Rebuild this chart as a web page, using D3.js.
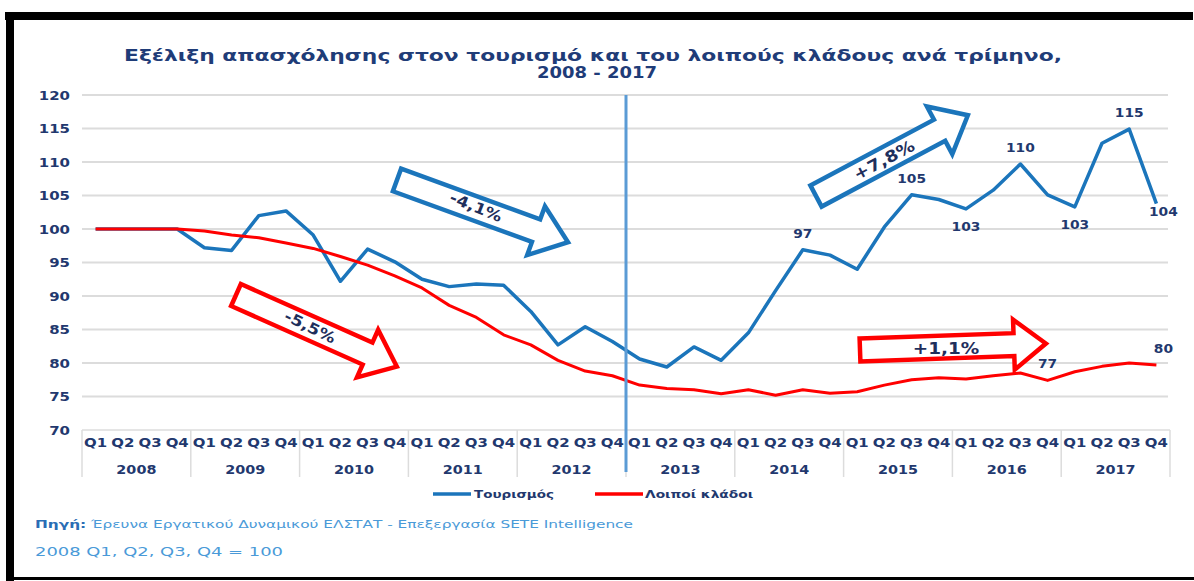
<!DOCTYPE html>
<html><head><meta charset="utf-8">
<script src="https://cdn.jsdelivr.net/npm/d3@7"></script>
<style>body{margin:0;background:#fff;}svg{display:block;}</style>
</head><body>
<svg id="c" width="1194" height="581"></svg>
<script>
// ---------- data ----------
const years = ["2008","2009","2010","2011","2012","2013","2014","2015","2016","2017"];
const quarters = ["Q1","Q2","Q3","Q4"];
const seriesNames = ["Τουρισμός","Λοιποί κλάδοι"];
const tourism = [
  100,100,100,100,
  97.2,96.8,102.0,102.7,
  99.1,92.2,97.0,95.1,
  92.5,91.4,91.8,91.6,
  87.7,82.7,85.4,83.2,
  80.6,79.4,82.4,80.4,
  84.5,90.8,96.9,96.1,
  94.0,100.3,105.1,104.4,
  103.0,105.8,109.7,105.1,
  103.3,112.8,114.9,103.8];
const others = [
  100,100,100,100,
  99.7,99.1,98.7,97.9,
  97.1,95.9,94.6,93.0,
  91.2,88.6,86.8,84.2,
  82.7,80.4,78.8,78.1,
  76.7,76.2,76.0,75.4,
  76.0,75.2,76.0,75.5,
  75.7,76.7,77.5,77.8,
  77.6,78.1,78.5,77.4,
  78.7,79.5,80.0,79.7];
const yTicks = [70,75,80,85,90,95,100,105,110,115,120];
const tourismLabels = [[26,"97",-1],[30,"105",-1],[32,"103",1],[34,"110",-1],[36,"103",1],[38,"115",-1],[39,"104",1]];
const othersLabels = [[35,"77",-1],[39,"80",-1]];
const trendTexts = ["-4,1%","-5,5%","+7,8%","+1,1%"];
const titleLines = ["Εξέλιξη απασχόλησης στον τουρισμό και του λοιπούς κλάδους ανά τρίμηνο,","2008 - 2017"];
const sourceLabel = "Πηγή:";
const sourceText = " Έρευνα Εργατικού Δυναμικού ΕΛΣΤΑΤ - Επεξεργασία SETE Intelligence";
const noteText = "2008 Q1, Q2, Q3, Q4 = 100";

// ---------- setup ----------
const svg = d3.select("#c");
const NAVY = "#22386e", BLUE = "#1b75bb", RED = "#ff0000", GRID = "#dcdcdc";
const FONT = "DejaVu Sans, Verdana, sans-serif";

function stretch(sel, k){ sel.each(function(){ const w=this.getComputedTextLength(); d3.select(this).attr("textLength", w*k).attr("lengthAdjust","spacingAndGlyphs"); }); }
function fit(sel, w){ sel.attr("textLength", w).attr("lengthAdjust","spacingAndGlyphs"); }

// frame
svg.append("rect").attr("x",5).attr("y",12).attr("width",1188).attr("height",8).attr("fill","#000");
svg.append("rect").attr("x",6).attr("y",12).attr("width",8).attr("height",569).attr("fill","#000");
svg.append("rect").attr("x",6).attr("y",577).attr("width",1188).attr("height",3).attr("fill","#000");

const idx = d3.range(tourism.length);
const x = d3.scaleBand().domain(idx).range([82,1170]);
const bw = x.bandwidth();
const cx = i => x(i) + bw/2;
const y = d3.scaleLinear().domain([70,120]).range([430,95]);

// title
const t1 = svg.append("text").attr("x",593).attr("y",61).attr("text-anchor","middle")
  .attr("font-family",FONT).attr("font-weight","bold").attr("font-size",15).attr("fill","#1f3c78").text(titleLines[0]);
fit(t1, 938);
const t2 = svg.append("text").attr("x",597).attr("y",78).attr("text-anchor","middle")
  .attr("font-family",FONT).attr("font-weight","bold").attr("font-size",15).attr("fill","#1f3c78").text(titleLines[1]);
fit(t2, 120);

// gridlines
svg.append("g").selectAll("line").data(yTicks.filter(v=>v>70)).join("line")
  .attr("x1",82).attr("x2",1168).attr("y1",d=>y(d)).attr("y2",d=>y(d))
  .attr("stroke",GRID).attr("stroke-width",2);
svg.append("line").attr("x1",82).attr("x2",1170).attr("y1",y(70)).attr("y2",y(70)).attr("stroke",GRID).attr("stroke-width",1.5);

// y axis
const ya = svg.append("g").attr("transform","translate(82,0)")
  .call(d3.axisLeft(y).tickValues(yTicks).tickSize(0).tickPadding(12));
ya.select(".domain").remove();
ya.selectAll("text").attr("font-family",FONT).attr("font-weight","bold").attr("font-size",11.5).attr("fill",NAVY).attr("dy","0.35em");
stretch(ya.selectAll("text"),1.3);

// x axis: quarters
const xa = svg.append("g").attr("transform",`translate(0,${y(70)})`)
  .call(d3.axisBottom(x).tickFormat(i=>quarters[i%4]).tickSize(0).tickPadding(17));
xa.select(".domain").remove();
xa.selectAll("text").attr("font-family",FONT).attr("font-weight","bold").attr("font-size",11.5).attr("fill",NAVY).attr("dy","0");
stretch(xa.selectAll("text"),1.3);
// year separators
svg.append("g").selectAll("line").data(d3.range(years.length+1)).join("line")
  .attr("x1",k=>k<years.length?x(k*4):x(idx.length-1)+bw).attr("x2",k=>k<years.length?x(k*4):x(idx.length-1)+bw)
  .attr("y1",y(70)).attr("y2",477).attr("stroke",GRID).attr("stroke-width",1.5);
const yl = svg.append("g").selectAll("text").data(years).join("text")
  .attr("x",(d,k)=>x(k*4)+bw*2).attr("y",474).attr("text-anchor","middle")
  .attr("font-family",FONT).attr("font-weight","bold").attr("font-size",11.5).attr("fill",NAVY).text(d=>d);
stretch(yl,1.25);

// lines
const line = d3.line().x((d,i)=>cx(i)).y(d=>y(d));
svg.append("path").datum(tourism).attr("d",line).attr("fill","none").attr("stroke",BLUE).attr("stroke-width",3.5).attr("stroke-linejoin","round");
svg.append("path").datum(others).attr("d",line).attr("fill","none").attr("stroke",RED).attr("stroke-width",3).attr("stroke-linejoin","round");

// vertical marker between 2012 and 2013
svg.append("line").attr("x1",x(20)).attr("x2",x(20)).attr("y1",95).attr("y2",472).attr("stroke","#5b9bd5").attr("stroke-width",3);

// data labels
function addLabels(arr, vals){
  const last = idx.length-1;
  const g = svg.append("g").selectAll("text").data(arr).join("text")
    .attr("x",d=> d[0]===last ? cx(d[0])+7 : cx(d[0]))
    .attr("y",d=> y(vals[d[0]]) + (d[2]<0 ? -12 : (d[0]===last ? 12 : 22)))
    .attr("text-anchor","middle").attr("font-family",FONT).attr("font-weight","bold").attr("font-size",11.5).attr("fill",NAVY)
    .text(d=>d[1]);
  stretch(g,1.2);
}
addLabels(tourismLabels, tourism);
addLabels(othersLabels, others);

// block arrows
function arrow(x0,y0,ang,L,h,hl,hw,color,label,tx,ty,tang,fs){
  const p = `M0,${-h/2}L${L-hl},${-h/2}L${L-hl},${-hw/2}L${L},0L${L-hl},${hw/2}L${L-hl},${h/2}L0,${h/2}Z`;
  svg.append("path").attr("d",p).attr("transform",`translate(${x0},${y0}) rotate(${ang})`)
    .attr("fill","#fff").attr("stroke",color).attr("stroke-width",4.5).attr("stroke-linejoin","miter");
  const t = svg.append("text").attr("transform",`translate(${tx},${ty}) rotate(${tang})`)
    .attr("text-anchor","middle").attr("dy","0.35em").attr("font-family",FONT).attr("font-weight","bold")
    .attr("font-size",fs).attr("fill","#1f2f5c").text(label);
  stretch(t,1.15);
}
arrow(397,180,20,182,24,34,52,BLUE,trendTexts[0],476,207,22,15);
arrow(236,295,24,176,24,32,52,RED,trendTexts[1],310,327,26,15);
arrow(816,196,-28,172,24,32,54,BLUE,trendTexts[2],884,160,-28,16);
arrow(860,350,-2,186,23,32,50,RED,trendTexts[3],946,348,0,16);

// legend
const lg = svg.append("g");
lg.append("line").attr("x1",433).attr("x2",471).attr("y1",494).attr("y2",494).attr("stroke",BLUE).attr("stroke-width",3.5);
const lt1 = lg.append("text").attr("x",474).attr("y",494).attr("dy","0.35em").attr("font-family",FONT).attr("font-weight","bold").attr("font-size",11).attr("fill",NAVY).text(seriesNames[0]);
fit(lt1, 80);
lg.append("line").attr("x1",595).attr("x2",643).attr("y1",494).attr("y2",494).attr("stroke",RED).attr("stroke-width",3.5);
const lt2 = lg.append("text").attr("x",645).attr("y",494).attr("dy","0.35em").attr("font-family",FONT).attr("font-weight","bold").attr("font-size",11).attr("fill",NAVY).text(seriesNames[1]);
fit(lt2, 108);

// source
const st = svg.append("text").attr("x",35).attr("y",528).attr("font-family",FONT).attr("font-size",11);
st.append("tspan").attr("font-weight","bold").attr("fill","#2a6db5").text(sourceLabel);
st.append("tspan").attr("fill","#4a9ad8").text(sourceText);
fit(st, 598);
const nt = svg.append("text").attr("x",35).attr("y",556).attr("font-family",FONT).attr("font-size",12).attr("fill","#4a9ad8").text(noteText);
fit(nt, 248);
</script>
</body></html>
